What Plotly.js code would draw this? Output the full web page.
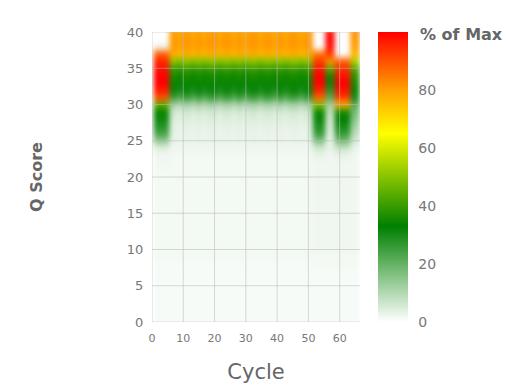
<!DOCTYPE html>
<html><head><meta charset="utf-8">
<script src="https://cdn.plot.ly/plotly-3.0.1.min.js"></script>
<style>
html,body{margin:0;padding:0;background:#fff}
#chart{width:508px;height:387px}
#chart .heatmaplayer{filter:blur(2.5px)}
</style>
</head><body>
<div id="chart"></div><script>
// Cycles (columns) and Q scores (rows)
const cycles = [1,2,3,4,5,6,7,8,9,10,11,12,13,14,15,16,17,18,19,20,21,22,23,24,25,26,27,28,29,30,31,32,33,34,35,36,37,38,39,40,41,42,43,44,45,46,47,48,49,50,51,52,53,54,55,56,57,58,59,60,61,62,63,64,65,66];
const qScores = [0,1,2,3,4,5,6,7,8,9,10,11,12,13,14,15,16,17,18,19,20,21,22,23,24,25,26,27,28,29,30,31,32,33,34,35,36,37,38,39,40];

// Column profiles: % of max for Q0..Q40
const profileA  = [1,1,1,1,1,1,1,1,1,1.5, 1.5,1.5,1.5,1.5,1.5,1.5,1.5,1.5,1.5,1.5, 1.5,1.5,2,2, 4,14,24,28,31,34,45,90,97,100,100,98,95,88,2,0,0];
const profileB1 = [1,1,1,1,1,1,1,1,1,1.5, 1.5,1.5,1.5,1.5,1.5,1.5,1.5,1.5,1.5,1.5, 1.5,1.5,1.5,1.5,2, 3,3,3,4,5,10,24,31,34,36,40,50,77,80,80,79];
const profileB2 = [1,1,1,1,1,1,1,1,1,1.5, 1.5,1.5,1.5,1.5,1.5,1.5,1.5,1.5,1.5,1.5, 1.5,1.5,1.5,1.5,2, 3,3,4,5,7,14,28,33,35,36,42,52,79,82,82,81];
const profileB3 = [1,1,1,1,1,1,1,1,1,1.5, 1.5,1.5,1.5,1.5,1.5,1.5,1.5,1.5,1.5,1.5, 1.5,1.5,1.5,1.5,2, 2,2,3,3,4,8,20,28,32,34,38,48,75,78,78,77];
const profileC  = [1,1,1,1,1,1,1,1,1.5,1.5, 2,2,2,2,2,2,2,2,2,2, 2,2,2, 3,6,16,26,29,32,35,50,88,96,100,100,97,93,85,0,0,0];
const profileD  = [1,1,1,1,1,1,1,1,1.5,1.5, 2,2,2,2,2,2,2,2,2,2, 2,2,2,2, 3,3,4,5,6,8,12,22,28,32,35,45,82,93,98,100,98];
const profileE  = [1,1,1,1,1,1,1,1,1.5,1.5, 2,2,2,2,2,2,2,2,2,2, 2,2,2, 3,7,18,26,30,33,36,78,93,98,100,98,94,88,0,0,0,0];
const profileF  = [1,1,1,1,1,1,1,1,1.5,1.5, 2,2,2,2,2,2,2,2,2,2, 2,2,2,2, 3,6,9,12,15,18,22,30,34,36,38,44,55,77,80,81,82];

// Which profile each cycle shows
const cycleProfile = [
 'A','A','A','A','A',
 'B1','B2','B1','B3','B2','B1','B2','B3','B1','B2',
 'B1','B3','B2','B1','B2','B1','B3','B2','B1','B2',
 'B3','B1','B2','B1','B3','B2','B1','B2','B1','B3',
 'B2','B1','B2','B3','B1','B2','B1','B3','B2','B1',
 'B2','B1','B3','B2','B1','B2',
 'C','C','C','C',
 'D','D','D',
 'E','E','E','E','E',
 'F','F','F'
];

const xTickVals = [0,10,20,30,40,50,60];
const yTickVals = [0,5,10,15,20,25,30,35,40];
const colorTickVals = [0,20,40,60,80];

const profiles = {A:profileA,B1:profileB1,B2:profileB2,B3:profileB3,C:profileC,D:profileD,E:profileE,F:profileF};
const z = qScores.map((q, qi) => cycles.map((c, ci) => profiles[cycleProfile[ci]][qi]));

const gridColor = 'rgba(185,185,185,0.55)';
const shapes = [
  ...xTickVals.map(v => ({type:'line', xref:'x', yref:'paper', x0:v, x1:v, y0:0, y1:1, layer:'above', line:{color:gridColor, width:1}})),
  ...yTickVals.map(v => ({type:'line', xref:'paper', yref:'y', x0:0, x1:1, y0:v, y1:v, layer:'above', line:{color:gridColor, width:1}}))
];

const trace = {
  type:'heatmap', x:cycles, y:qScores, z:z,
  zsmooth:'fast', zmin:0, zmax:100,
  colorscale:[[0,'#ffffff'],[0.33,'#008000'],[0.65,'#ffff00'],[0.8,'#ffa000'],[1,'#ff0000']],
  colorbar:{
    x:1.0865, xanchor:'left', xpad:0, y:0.5, yanchor:'middle', ypad:0,
    len:1, lenmode:'fraction', thickness:30, thicknessmode:'pixels',
    outlinewidth:0, tickvals:colorTickVals, ticks:'outside', ticklen:8,
    tickcolor:'rgba(0,0,0,0)', tickfont:{family:'DejaVu Sans, sans-serif', size:14, color:'#777'}
  },
  hoverinfo:'x+y+z'
};

const layout = {
  width:508, height:387,
  margin:{l:152, r:148, t:32, b:65},
  paper_bgcolor:'#ffffff', plot_bgcolor:'#ffffff',
  font:{family:'DejaVu Sans, sans-serif', color:'#777'},
  xaxis:{range:[0,66.5], tickvals:xTickVals, showgrid:false, zeroline:false, showline:false,
    ticks:'outside', ticklen:6, tickcolor:'rgba(0,0,0,0)', tickfont:{size:11, color:'#777'},
    title:{text:'Cycle', font:{size:21, color:'#666'}, standoff:20}},
  yaxis:{range:[0,40], tickvals:yTickVals, showgrid:false, zeroline:false, showline:false,
    ticks:'outside', ticklen:5, tickcolor:'rgba(0,0,0,0)', tickfont:{size:13, color:'#777'},
    title:{text:'Q Score', font:{size:16, color:'#666', weight:'bold'}, standoff:80}},
  annotations:[{text:'% of Max', xref:'paper', yref:'paper', x:1.279, y:0.993, xanchor:'left', yanchor:'middle',
    showarrow:false, font:{size:16, color:'#666', weight:'bold'}}],
  shapes:shapes
};

Plotly.newPlot('chart', [trace], layout, {displayModeBar:false, staticPlot:true});
</script></body></html>
